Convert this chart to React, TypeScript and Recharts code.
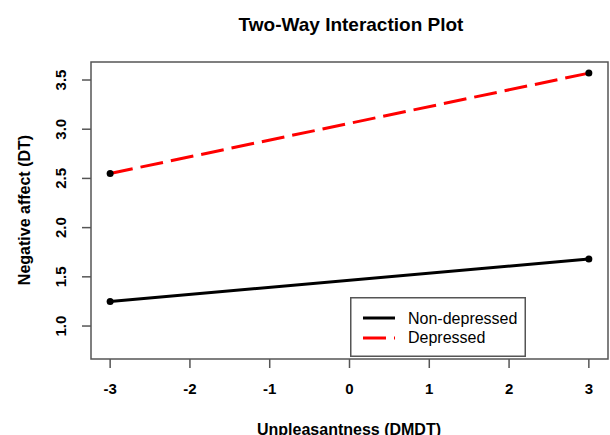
import React from "react";
import { LineChart, Line, XAxis, YAxis, ReferenceArea, Legend } from "recharts";

const xValues = [-3, 3];
const nonDepressed = [1.25, 1.68];
const depressed = [2.55, 3.57];
const xTicks = [-3, -2, -1, 0, 1, 2, 3];
const yTicks = [1.0, 1.5, 2.0, 2.5, 3.0, 3.5];
const xDomain: [number, number] = [-3.24, 3.24];
const yDomain: [number, number] = [0.665, 3.683];

const seriesNames = ["Non-depressed", "Depressed"];
const seriesColors = ["#000000", "#ff0000"];
const seriesDash = [undefined, "23 8"];

const data = xValues.map((x, i) => ({ x, nd: nonDepressed[i], dep: depressed[i] }));

const FONT = "'Liberation Sans', Arial, Helvetica, sans-serif";

const YTick = (props: any) => {
  const { x, y, payload } = props;
  const cx = x - 21;
  return (
    <text
      x={cx}
      y={y}
      transform={`rotate(-90 ${cx} ${y})`}
      textAnchor="middle"
      dominantBaseline="central"
      fontFamily={FONT}
      fontSize={15}
      fontWeight="bold"
      fill="#000"
    >
      {Number(payload.value).toFixed(1)}
    </text>
  );
};

const LegendBox = () => (
  <svg width={176} height={60} style={{ display: "block" }}>
    <rect x={0.75} y={0.75} width={174.5} height={58.5} fill="#fff" stroke="#555" strokeWidth={1.5} />
    {seriesNames.map((name, i) => (
      <g key={name}>
        <line
          x1={13}
          x2={45}
          y1={21 + i * 20}
          y2={21 + i * 20}
          stroke={seriesColors[i]}
          strokeWidth={3}
          strokeDasharray={seriesDash[i]}
        />
        <text x={58} y={27 + i * 19} fontFamily={FONT} fontSize={16} fill="#000">
          {name}
        </text>
      </g>
    ))}
  </svg>
);

export default function App() {
  return (
    <div style={{ position: "absolute", left: 0, top: 0, width: 610, height: 435, background: "#fff" }}>
      <LineChart width={610} height={435} data={data} margin={{ top: 62, right: 2, bottom: 36, left: 0 }}>
        <XAxis
          dataKey="x"
          type="number"
          domain={xDomain}
          ticks={xTicks}
          allowDataOverflow
          axisLine={false}
          tickLine={{ stroke: "#555", strokeWidth: 1.5 }}
          tickSize={9}
          tickMargin={15}
          height={40}
          tick={{ fontSize: 15, fontWeight: "bold", fill: "#000", fontFamily: FONT }}
          interval={0}
        />
        <YAxis
          type="number"
          domain={yDomain}
          ticks={yTicks}
          allowDataOverflow
          axisLine={false}
          tickLine={{ stroke: "#555", strokeWidth: 1.5 }}
          tickSize={9}
          tickMargin={0}
          width={91}
          tick={<YTick />}
          interval={0}
        />
        <ReferenceArea
          x1={xDomain[0]}
          x2={xDomain[1]}
          y1={yDomain[0]}
          y2={yDomain[1]}
          fill="none"
          fillOpacity={0}
          stroke="#555"
          strokeWidth={1.5}
        />
        <Legend
          layout="horizontal"
          verticalAlign="middle"
          align="center"
          content={<LegendBox />}
          wrapperStyle={{ left: 350, top: 297, width: 176, height: 60 }}
        />
        <Line
          dataKey="nd"
          name={seriesNames[0]}
          type="linear"
          stroke={seriesColors[0]}
          strokeWidth={3}
          dot={{ r: 3.5, fill: "#000", stroke: "none" }}
          isAnimationActive={false}
        />
        <Line
          dataKey="dep"
          name={seriesNames[1]}
          type="linear"
          stroke={seriesColors[1]}
          strokeWidth={3}
          strokeDasharray={seriesDash[1]}
          dot={{ r: 3.5, fill: "#000", stroke: "none", strokeDasharray: "0" }}
          isAnimationActive={false}
        />
      </LineChart>
      <svg
        width={610}
        height={435}
        style={{ position: "absolute", left: 0, top: 0, pointerEvents: "none" }}
      >
        <text x={351} y={31} textAnchor="middle" fontFamily={FONT} fontSize={19} fontWeight="bold" fill="#000">
          Two-Way Interaction Plot
        </text>
        <text x={349} y={435} textAnchor="middle" fontFamily={FONT} fontSize={16} fontWeight="bold" fill="#000">
          Unpleasantness (DMDT)
        </text>
        <text
          x={30}
          y={210}
          transform="rotate(-90 30 210)"
          textAnchor="middle"
          fontFamily={FONT}
          fontSize={16}
          fontWeight="bold"
          fill="#000"
        >
          Negative affect (DT)
        </text>
      </svg>
    </div>
  );
}
